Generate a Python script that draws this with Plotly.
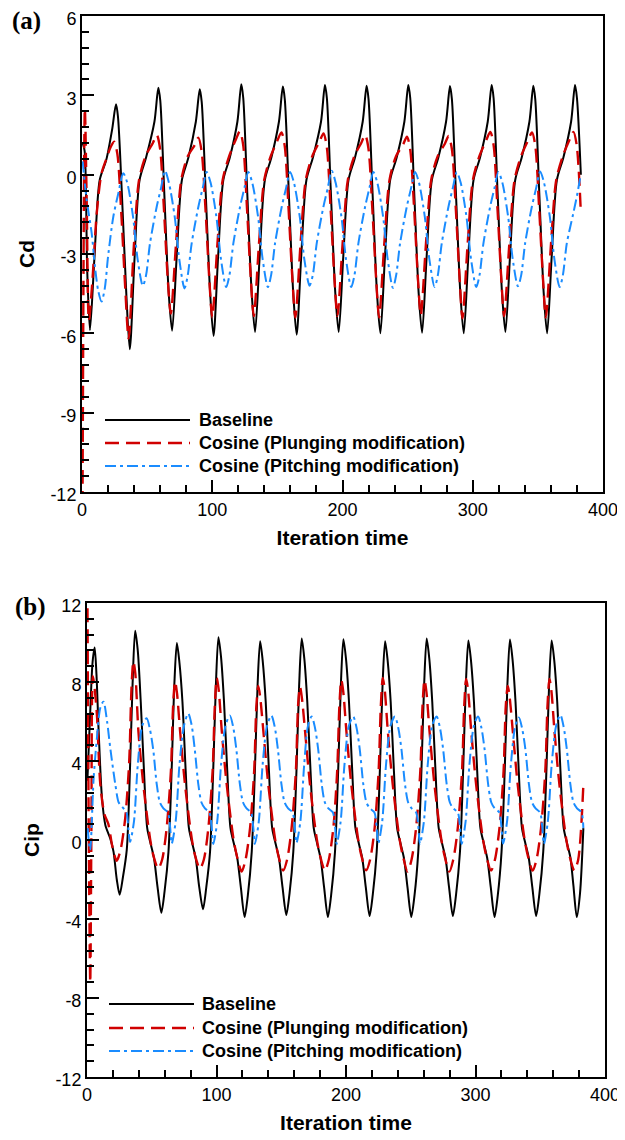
import plotly.graph_objects as go

# ---------------- Panel (a): Cd ----------------
cd_base_x = [0.5, 2.0, 4.0,
 6.1, 9.6, 13.6, 18.6, 23.1, 26.1, 27.6, 30.6, 34.1,
 36.7, 40.2, 44.2, 49.2, 55.6, 58.6, 60.1, 63.1, 66.6,
 69.2, 72.7, 76.7, 81.7, 87.4, 90.4, 91.9, 94.9, 98.4,
 101.0, 104.5, 108.5, 113.5, 119.3, 122.3, 123.8, 126.8, 130.3,
 132.9, 136.4, 140.4, 145.4, 151.2, 154.2, 155.7, 158.7, 162.2,
 164.8, 168.3, 172.3, 177.3, 183.5, 186.5, 188.0, 191.0, 194.5,
 197.1, 200.6, 204.6, 209.6, 215.5, 218.5, 220.0, 223.0, 226.5,
 229.1, 232.6, 236.6, 241.6, 247.5, 250.5, 252.0, 255.0, 258.5,
 261.1, 264.6, 268.6, 273.6, 279.5, 282.5, 284.0, 287.0, 290.5,
 293.1, 296.6, 300.6, 305.6, 311.5, 314.5, 316.0, 319.0, 322.5,
 325.1, 328.6, 332.6, 337.6, 343.5, 346.5, 348.0, 351.0, 354.5,
 357.1, 360.6, 364.6, 369.6, 375.5, 378.5, 380.0, 383.0]
cd_base_y = [1.2, 0.9, -3.6,
 -5.88, -3.1, -0.2, 0.55, 1.7, 2.66, 2.2, -0.7, -4.6,
 -6.6, -3.3, -0.2, 0.65, 2.0, 3.29, 2.8, -0.6, -4.5,
 -5.9, -3.1, -0.2, 0.65, 2.0, 3.23, 2.75, -0.6, -4.5,
 -6.1, -3.1, -0.2, 0.65, 2.0, 3.42, 2.9, -0.6, -4.5,
 -5.95, -3.1, -0.2, 0.65, 2.0, 3.33, 2.85, -0.6, -4.5,
 -6.05, -3.1, -0.2, 0.65, 2.0, 3.39, 2.9, -0.6, -4.5,
 -5.95, -3.1, -0.2, 0.65, 2.0, 3.36, 2.85, -0.6, -4.5,
 -6.0, -3.1, -0.2, 0.65, 2.0, 3.39, 2.9, -0.6, -4.5,
 -5.98, -3.1, -0.2, 0.65, 2.0, 3.35, 2.85, -0.6, -4.5,
 -6.0, -3.1, -0.2, 0.65, 2.0, 3.39, 2.9, -0.6, -4.5,
 -5.95, -3.1, -0.2, 0.65, 2.0, 3.36, 2.85, -0.6, -4.5,
 -6.0, -3.1, -0.2, 0.65, 2.0, 3.39, 2.9, 0.0]

cd_plunge_x = [0.4, 2.2, 3.6, 5.3, 8.0, 11.3, 15.0, 19.5, 21.6, 24.6, 27.1, 30.1, 33.1,
 35.8, 39.8, 43.8, 48.8, 54.4, 57.4, 59.9, 62.9, 65.9,
 68.2, 72.2, 76.2, 81.2, 86.3, 89.3, 91.8, 94.8, 97.8,
 100.0, 104.0, 108.0, 113.0, 118.2, 121.2, 123.7, 126.7, 129.7,
 131.9, 135.9, 139.9, 144.9, 150.1, 153.1, 155.6, 158.6, 161.6,
 163.8, 167.8, 171.8, 176.8, 182.4, 185.4, 187.9, 190.9, 193.9,
 196.1, 200.1, 204.1, 209.1, 214.4, 217.4, 219.9, 222.9, 225.9,
 228.1, 232.1, 236.1, 241.1, 246.5, 249.5, 252.0, 255.0, 258.0,
 260.1, 264.1, 268.1, 273.1, 278.5, 281.5, 284.0, 287.0, 290.0,
 292.1, 296.1, 300.1, 305.1, 310.5, 313.5, 316.0, 319.0, 322.0,
 324.1, 328.1, 332.1, 337.1, 342.5, 345.5, 348.0, 351.0, 354.0,
 356.1, 360.1, 364.1, 369.1, 374.3, 377.3, 379.8, 382.9]
cd_plunge_y = [-12.5, 2.5, -1.0, -5.5, -4.0, -1.46, 0.05, 0.7, 1.0, 1.25, 0.8, -1.4, -4.2,
 -6.2, -2.7, -0.2, 0.7, 1.2, 1.5, 1.0, -1.3, -4.0,
 -5.25, -2.6, -0.2, 0.7, 1.1, 1.4, 0.9, -1.3, -4.0,
 -5.4, -2.6, -0.2, 0.7, 1.34, 1.64, 1.14, -1.3, -4.0,
 -5.35, -2.6, -0.2, 0.7, 1.3, 1.6, 1.1, -1.3, -4.0,
 -5.4, -2.6, -0.2, 0.7, 1.26, 1.56, 1.06, -1.3, -4.0,
 -5.35, -2.6, -0.2, 0.7, 1.2, 1.5, 1.0, -1.3, -4.0,
 -5.4, -2.6, -0.2, 0.7, 1.14, 1.44, 0.94, -1.3, -4.0,
 -5.31, -2.6, -0.2, 0.7, 1.16, 1.46, 0.96, -1.3, -4.0,
 -5.43, -2.6, -0.2, 0.7, 1.32, 1.62, 1.12, -1.3, -4.0,
 -5.35, -2.6, -0.2, 0.7, 1.3, 1.6, 1.1, -1.3, -4.0,
 -5.4, -2.6, -0.2, 0.7, 1.32, 1.62, 1.12, -1.34]

cd_pitch_x = [0.5, 3.6, 7.4, 10.0, 12.5, 15.0, 17.5, 20.0, 24.0, 27.9, 31.7,
 34.7, 39.2, 42.7, 46.7, 49.2, 52.2, 57.2, 60.7, 63.7,
 66.7, 71.2, 74.7, 78.7, 81.2, 84.2, 89.2, 92.7, 95.7,
 98.7, 103.2, 106.7, 110.7, 113.2, 116.2, 121.2, 124.7, 127.7,
 130.7, 135.2, 138.7, 142.7, 145.2, 148.2, 153.2, 156.7, 159.7,
 162.7, 167.2, 170.7, 174.7, 177.2, 180.2, 185.2, 188.7, 191.7,
 194.7, 199.2, 202.7, 206.7, 209.2, 212.2, 217.2, 220.7, 223.7,
 226.7, 231.2, 234.7, 238.7, 241.2, 244.2, 249.2, 252.7, 255.7,
 258.7, 263.2, 266.7, 270.7, 273.2, 276.2, 281.2, 284.7, 287.7,
 290.7, 295.2, 298.7, 302.7, 305.2, 308.2, 313.2, 316.7, 319.7,
 322.7, 327.2, 330.7, 334.7, 337.2, 340.2, 345.2, 348.7, 351.7,
 354.7, 359.2, 362.7, 366.7, 369.2, 372.2, 377.2, 380.0, 382.9]
cd_pitch_y = [0.5, -0.96, -2.2, -3.5, -4.4, -4.8, -4.3, -3.1, -1.6, -0.7, 0.05,
 -0.3, -1.6, -3.2, -4.2, -3.8, -2.6, -1.25, -0.5, 0.15,
 -0.3, -1.6, -3.2, -4.3, -3.8, -2.6, -1.25, -0.5, 0.1,
 -0.3, -1.6, -3.2, -4.25, -3.8, -2.6, -1.25, -0.5, 0.1,
 -0.3, -1.6, -3.2, -4.25, -3.8, -2.6, -1.25, -0.5, 0.1,
 -0.3, -1.6, -3.2, -4.2, -3.8, -2.6, -1.25, -0.5, 0.15,
 -0.3, -1.6, -3.2, -4.25, -3.8, -2.6, -1.25, -0.5, 0.1,
 -0.3, -1.6, -3.2, -4.28, -3.8, -2.6, -1.25, -0.5, 0.1,
 -0.3, -1.6, -3.2, -4.25, -3.8, -2.6, -1.25, -0.5, 0.1,
 -0.3, -1.6, -3.2, -4.25, -3.8, -2.6, -1.25, -0.5, 0.1,
 -0.3, -1.6, -3.2, -4.22, -3.8, -2.6, -1.25, -0.5, 0.12,
 -0.3, -1.6, -3.2, -4.25, -3.8, -2.6, -1.46, -0.8, 0.0]

# ---------------- Panel (b): Cip ----------------
cip_base_x = [0.3, 2.5, 4.3, 5.9, 7.3, 9.0, 11.6, 14.2, 18.0, 20.5, 23.0, 25.2, 27.7, 30.7, 33.2, 35.2, 37.2,
 39.2, 41.5, 44.0, 46.5, 49.2, 51.7, 54.5, 57.4, 59.9, 62.9, 65.4, 67.4, 69.4,
 71.4, 73.7, 76.2, 78.7, 81.4, 83.9, 86.7, 89.6, 92.1, 95.0, 97.5, 99.5, 101.5,
 103.5, 105.8, 108.3, 110.8, 113.5, 116.0, 118.8, 121.7, 124.2, 127.2, 129.7, 131.7, 133.7,
 135.7, 138.0, 140.5, 143.0, 145.7, 148.2, 151.0, 153.9, 156.4, 159.3, 161.8, 163.8, 165.8,
 167.8, 170.1, 172.6, 175.1, 177.8, 180.3, 183.1, 186.0, 188.5, 191.5, 194.0, 196.0, 198.0,
 200.0, 202.3, 204.8, 207.3, 210.0, 212.5, 215.3, 218.2, 220.7, 223.7, 226.2, 228.2, 230.2,
 232.2, 234.5, 237.0, 239.5, 242.2, 244.7, 247.5, 250.4, 252.9, 255.8, 258.3, 260.3, 262.3,
 264.3, 266.6, 269.1, 271.6, 274.3, 276.8, 279.6, 282.5, 285.0, 288.0, 290.5, 292.5, 294.5,
 296.5, 298.8, 301.3, 303.8, 306.5, 309.0, 311.8, 314.7, 317.2, 320.1, 322.6, 324.6, 326.6,
 328.6, 330.9, 333.4, 335.9, 338.6, 341.1, 343.9, 346.8, 349.3, 352.3, 354.8, 356.8, 358.8,
 360.8, 363.1, 365.6, 368.1, 370.8, 373.3, 375.6, 378.2, 380.7, 383.3]
cip_base_y = [3.0, 6.5, 9.0, 9.75, 8.4, 5.5, 2.1, 0.75, 0.07, -0.6, -2.0, -2.77, -1.9, -0.5, 3.6, 7.9, 10.6,
 9.6, 7.0, 3.5, 0.6, -0.2, -0.9, -2.4, -3.68, -2.6, -0.6, 3.6, 7.8, 9.97,
 8.97, 7.0, 3.5, 0.6, -0.2, -0.9, -2.4, -3.5, -2.4, -0.6, 3.6, 7.8, 10.27,
 9.27, 7.0, 3.5, 0.6, -0.2, -0.9, -2.4, -3.9, -2.8, -0.6, 3.6, 7.8, 10.06,
 9.06, 7.0, 3.5, 0.6, -0.2, -0.9, -2.4, -3.8, -2.7, -0.6, 3.6, 7.8, 10.2,
 9.2, 7.0, 3.5, 0.6, -0.2, -0.9, -2.4, -3.9, -2.8, -0.6, 3.6, 7.8, 10.17,
 9.17, 7.0, 3.5, 0.6, -0.2, -0.9, -2.4, -3.85, -2.75, -0.6, 3.6, 7.8, 10.06,
 9.06, 7.0, 3.5, 0.6, -0.2, -0.9, -2.4, -3.9, -2.8, -0.6, 3.6, 7.8, 10.2,
 9.2, 7.0, 3.5, 0.6, -0.2, -0.9, -2.4, -3.85, -2.75, -0.6, 3.6, 7.8, 10.1,
 9.1, 7.0, 3.5, 0.6, -0.2, -0.9, -2.4, -3.9, -2.8, -0.6, 3.6, 7.8, 10.15,
 9.15, 7.0, 3.5, 0.6, -0.2, -0.9, -2.4, -3.85, -2.75, -0.6, 3.6, 7.8, 10.1,
 9.1, 7.0, 3.5, 0.6, -0.2, -0.9, -2.3, -3.9, -2.7, 0.6]

cip_plunge_x = [0.3, 1.4, 2.5, 3.4, 4.5, 6.0, 7.7, 10.3, 13.5, 16.5, 19.5, 22.9, 25.9, 29.5, 32.6, 34.3, 35.8,
 37.3, 39.7, 43.5, 48.7, 51.3, 55.0, 58.0, 61.5, 64.8, 66.5, 68.0,
 69.5, 71.9, 75.7, 80.9, 83.5, 87.2, 90.2, 93.7, 97.0, 98.7, 100.2,
 101.7, 104.1, 107.9, 113.1, 115.7, 119.4, 122.4, 125.9, 129.1, 130.8, 132.3,
 133.8, 136.2, 140.0, 145.2, 147.8, 151.5, 154.5, 158.0, 161.3, 163.0, 164.5,
 166.0, 168.4, 172.2, 177.4, 180.0, 183.7, 186.7, 190.2, 193.2, 194.9, 196.4,
 197.9, 200.3, 204.1, 209.3, 211.9, 215.6, 218.6, 222.1, 225.2, 226.9, 228.4,
 229.9, 232.3, 236.1, 241.3, 243.9, 247.6, 250.6, 254.1, 257.4, 259.1, 260.6,
 262.1, 264.5, 268.3, 273.5, 276.1, 279.8, 282.8, 286.3, 289.6, 291.3, 292.8,
 294.3, 296.7, 300.5, 305.7, 308.3, 312.0, 315.0, 318.5, 321.7, 323.4, 324.9,
 326.4, 328.8, 332.6, 337.8, 340.4, 344.1, 347.1, 350.6, 353.9, 355.6, 357.1,
 358.6, 361.0, 364.8, 370.0, 372.6, 376.3, 379.3, 383.3]
cip_plunge_y = [12.8, 0.0, -7.2, 0.5, 8.3, 7.6, 6.3, 2.8, 1.3, 0.8, -0.3, -1.05, -0.5, 1.1, 4.0, 7.6, 9.04,
 8.44, 5.5, 2.8, 0.07, -0.8, -1.45, -1.0, 0.6, 3.5, 6.8, 8.03,
 7.43, 5.5, 2.8, 0.07, -0.8, -1.45, -1.0, 0.6, 3.5, 6.8, 8.2,
 7.6, 5.5, 2.8, 0.07, -0.8, -1.6, -1.0, 0.6, 3.5, 6.8, 7.8,
 7.2, 5.5, 2.8, 0.07, -0.8, -1.55, -1.0, 0.6, 3.5, 6.8, 7.76,
 7.16, 5.5, 2.8, 0.07, -0.8, -1.55, -1.0, 0.6, 3.5, 6.8, 8.1,
 7.5, 5.5, 2.8, 0.07, -0.8, -1.54, -1.0, 0.6, 3.5, 6.8, 8.2,
 7.6, 5.5, 2.8, 0.07, -0.8, -1.6, -1.0, 0.6, 3.5, 6.8, 8.1,
 7.5, 5.5, 2.8, 0.07, -0.8, -1.6, -1.0, 0.6, 3.5, 6.8, 8.15,
 7.55, 5.5, 2.8, 0.07, -0.8, -1.55, -1.0, 0.6, 3.5, 6.8, 7.8,
 7.2, 5.5, 2.8, 0.07, -0.8, -1.55, -1.0, 0.6, 3.5, 6.8, 8.15,
 7.55, 5.5, 2.8, 0.07, -0.8, -1.54, -1.0, 2.8]

cip_pitch_x = [0.5, 2.4, 5.1, 7.7, 10.3, 12.7, 15.5, 18.0, 21.9, 24.5, 27.5, 30.5, 31.9, 33.2, 36.2, 39.2, 42.7, 46.1,
 48.6, 51.1, 53.9, 56.3, 59.0, 62.4, 64.1, 65.4, 68.4, 71.4, 74.9, 78.2,
 80.7, 83.2, 86.0, 88.4, 91.1, 94.5, 96.2, 97.5, 100.5, 103.5, 107.0, 110.3,
 112.8, 115.3, 118.1, 120.5, 123.2, 126.6, 128.3, 129.6, 132.6, 135.6, 139.1, 142.4,
 144.9, 147.4, 150.2, 152.6, 155.3, 158.7, 160.4, 161.7, 164.7, 167.7, 170.7, 173.5,
 176.0, 178.5, 181.3, 183.7, 186.4, 189.8, 191.5, 192.8, 195.8, 198.8, 202.3, 205.6,
 208.1, 210.6, 213.4, 215.8, 218.5, 221.9, 223.6, 224.9, 227.9, 230.9, 234.4, 237.8,
 240.3, 242.8, 245.6, 248.0, 250.7, 254.1, 255.8, 257.1, 260.1, 263.1, 266.6, 270.0,
 272.5, 275.0, 277.8, 280.2, 282.9, 286.3, 288.0, 289.3, 292.3, 295.3, 298.8, 302.0,
 304.5, 307.0, 309.8, 312.2, 314.9, 318.3, 320.0, 321.3, 324.3, 327.3, 330.8, 333.5,
 336.0, 338.5, 341.3, 343.7, 346.4, 349.8, 351.5, 352.8, 355.8, 358.8, 362.3, 365.5,
 368.0, 370.5, 373.3, 375.7, 378.4, 381.8, 383.3]
cip_pitch_y = [0.6, -0.5, 3.1, 5.2, 6.7, 7.0, 6.0, 4.64, 2.8, 1.9, 1.65, 1.4, 0.6, -0.1, 0.9, 3.8, 5.8, 6.16,
 5.6, 4.6, 2.8, 1.9, 1.6, 1.4, 0.7, -0.18, 0.9, 3.8, 5.8, 6.4,
 5.85, 4.6, 2.8, 1.9, 1.6, 1.4, 0.7, -0.2, 0.9, 3.8, 5.8, 6.3,
 5.75, 4.6, 2.8, 1.9, 1.6, 1.4, 0.7, -0.2, 0.9, 3.8, 5.8, 6.3,
 5.75, 4.6, 2.8, 1.9, 1.6, 1.4, 0.7, -0.15, 0.9, 3.8, 5.8, 6.25,
 5.7, 4.6, 2.8, 1.9, 1.6, 1.4, 0.7, -0.2, 0.9, 3.8, 5.8, 6.25,
 5.7, 4.6, 2.8, 1.9, 1.6, 1.4, 0.7, -0.18, 0.9, 3.8, 5.8, 6.25,
 5.7, 4.6, 2.8, 1.9, 1.6, 1.4, 0.7, -0.2, 0.9, 3.8, 5.8, 6.25,
 5.7, 4.6, 2.8, 1.9, 1.6, 1.4, 0.7, -0.2, 0.9, 3.8, 5.8, 6.25,
 5.7, 4.6, 2.8, 1.9, 1.6, 1.4, 0.7, -0.18, 0.9, 3.8, 5.8, 6.2,
 5.65, 4.6, 2.8, 1.9, 1.6, 1.4, 0.7, -0.2, 0.9, 3.8, 5.8, 6.33,
 5.75, 4.6, 2.8, 1.9, 1.6, 1.4, 0.6]

series_names = ["Baseline", "Cosine (Plunging modification)", "Cosine (Pitching modification)"]
x_ticks = [0, 100, 200, 300, 400]
cd_ticks = [-12, -9, -6, -3, 0, 3, 6]
cip_ticks = [-12, -8, -4, 0, 4, 8, 12]

for a, b in [(cd_base_x, cd_base_y), (cd_plunge_x, cd_plunge_y), (cd_pitch_x, cd_pitch_y),
             (cip_base_x, cip_base_y), (cip_plunge_x, cip_plunge_y), (cip_pitch_x, cip_pitch_y)]:
    assert len(a) == len(b), (len(a), len(b))

# The page body has an 8px margin; work in page pixels and convert.
OFF = 8
W, H = 625 - OFF, 1140 - OFF


def px(x):
    return (x - OFF) / W


def py(y):
    return 1 - (y - OFF) / H


FONT = "Liberation Sans, Arial, sans-serif"
SERIF = "Liberation Serif, Times New Roman, serif"
styles = [dict(color="black", width=2, dash="solid"),
          dict(color="#D00000", width=2.4, dash="14px,7px"),
          dict(color="#1A8CFF", width=2, dash="11px,4px,3px,4px")]

fig = go.Figure()
panel_a = [(cd_base_x, cd_base_y), (cd_plunge_x, cd_plunge_y), (cd_pitch_x, cd_pitch_y)]
panel_b = [(cip_base_x, cip_base_y), (cip_plunge_x, cip_plunge_y), (cip_pitch_x, cip_pitch_y)]
for (xs, ys), st, nm in zip(panel_a, styles, series_names):
    fig.add_trace(go.Scatter(x=xs, y=ys, mode="lines", name=nm, showlegend=False,
                             line=dict(shape="spline", smoothing=0.8, **st),
                             xaxis="x", yaxis="y"))
for (xs, ys), st, nm in zip(panel_b, styles, series_names):
    fig.add_trace(go.Scatter(x=xs, y=ys, mode="lines", name=nm, showlegend=False,
                             line=dict(shape="spline", smoothing=0.8, **st),
                             xaxis="x2", yaxis="y2"))


def fmt(v):
    return str(v)


def xax(domain, anchor):
    return dict(domain=domain, anchor=anchor, range=[0, 400], tickmode="array",
                tickvals=x_ticks, ticktext=[fmt(v) for v in x_ticks],
                ticks="inside", ticklen=12, tickwidth=2, tickcolor="black",
                showline=True, linewidth=2, linecolor="black", mirror=True,
                showgrid=False, zeroline=False, automargin=False, ticklabeloverflow="allow",
                minor=dict(ticks="inside", ticklen=7, tickwidth=1.5, tickcolor="black",
                           dtick=20, tick0=0, showgrid=False),
                tickfont=dict(family=FONT, size=18, color="black"),
                title=dict(text="<b>Iteration time</b>", font=dict(family=FONT, size=21, color="black"),
                           standoff=12))


def yax(domain, anchor, rng, ticks, minor, title):
    return dict(domain=domain, anchor=anchor, range=rng, tickmode="array",
                tickvals=ticks, ticktext=[fmt(v) for v in ticks],
                ticks="inside", ticklen=12, tickwidth=2, tickcolor="black",
                showline=True, linewidth=2, linecolor="black", mirror=True,
                showgrid=False, zeroline=False, automargin=False, ticklabeloverflow="allow",
                ticklabelshift=3,
                minor=dict(ticks="inside", ticklen=7, tickwidth=1.5, tickcolor="black",
                           dtick=minor, tick0=0, showgrid=False),
                tickfont=dict(family=FONT, size=18, color="black"),
                title=dict(text="<b>%s</b>" % title, font=dict(family=FONT, size=21, color="black"),
                           standoff=10))


fig.update_layout(
    width=W, height=H, margin=dict(l=0, r=0, t=0, b=0),
    paper_bgcolor="white", plot_bgcolor="white",
    xaxis=xax([px(82), px(603)], "y"),
    yaxis=yax([py(492), py(16)], "x", [-12, 6], cd_ticks, 0.6, "Cd"),
    xaxis2=xax([px(87), px(605)], "y2"),
    yaxis2=yax([py(1077), py(603)], "x2", [-12, 12], cip_ticks, 0.8, "Cip"),
    showlegend=False,
)

# panel letters
fig.add_annotation(x=px(26), y=py(21), xref="paper", yref="paper", text="<b>(a)</b>",
                   xanchor="center", yanchor="middle",
                   showarrow=False, font=dict(family=SERIF, size=25, color="black"))
fig.add_annotation(x=px(30), y=py(607), xref="paper", yref="paper", text="<b>(b)</b>",
                   xanchor="center", yanchor="middle",
                   showarrow=False, font=dict(family=SERIF, size=25, color="black"))

# keys inside each panel
legend_rows = {"a": (105, 190, 197, [420, 443, 466]), "b": (109, 194, 200, [1004, 1028, 1051])}
for key, (lx0, lx1, tx, rows) in legend_rows.items():
    for st, nm, ry in zip(styles, series_names, rows):
        fig.add_shape(type="line", xref="paper", yref="paper",
                      x0=px(lx0), x1=px(lx1), y0=py(ry), y1=py(ry),
                      line=dict(color=st["color"], width=st["width"], dash=st["dash"]))
        fig.add_annotation(x=px(tx), y=py(ry), xref="paper", yref="paper",
                           text="<b>%s</b>" % nm, showarrow=False, xanchor="left", yanchor="middle",
                           font=dict(family=FONT, size=18, color="black"))

fig.write_html("out.html")
